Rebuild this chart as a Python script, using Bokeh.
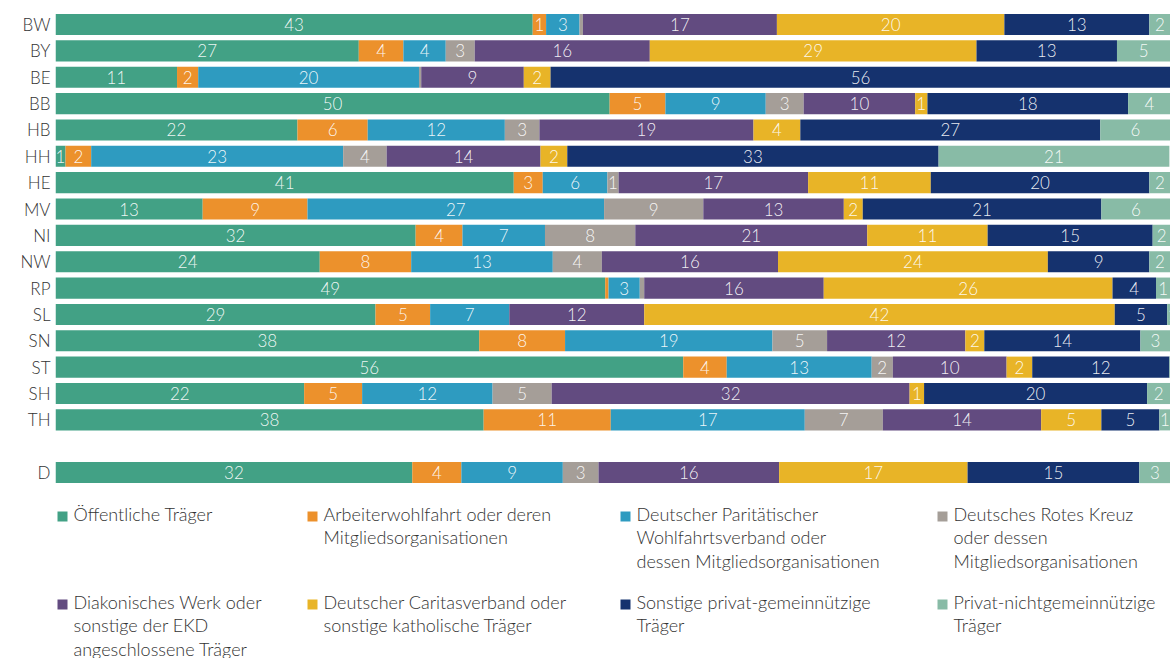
from bokeh.plotting import figure
from bokeh.models import ColumnDataSource, Range1d, FixedTicker
from bokeh.layouts import column
from bokeh.core.properties import value
from bokeh.embed import file_html
from bokeh.resources import INLINE

# ---------------- data (shares in %) ----------------
states = ["BW", "BY", "BE", "BB", "HB", "HH", "HE", "MV", "NI", "NW",
          "RP", "SL", "SN", "ST", "SH", "TH", "D"]

oeffentlich = [42.8, 27.2, 10.9, 49.7, 21.7, 0.9, 41.1, 13.2, 32.3, 23.7, 49.3, 28.7, 38.0, 56.3, 22.3, 38.4, 32.0]
awo         = [1.2, 4.0, 1.9, 5.0, 6.3, 2.3, 2.6, 9.4, 4.2, 8.2, 0.3, 4.9, 7.7, 3.9, 5.2, 11.4, 4.4]
paritaet    = [3.0, 3.8, 19.8, 9.0, 12.3, 22.6, 5.8, 26.6, 7.4, 12.7, 2.8, 7.1, 18.6, 13.0, 11.7, 17.4, 9.1]
drk         = [0.3, 2.6, 0.2, 3.4, 3.1, 3.9, 1.0, 8.9, 8.1, 4.4, 0.4, 0.0, 4.9, 1.9, 5.3, 7.0, 3.2]
diakonie    = [17.4, 15.7, 9.2, 10.0, 19.2, 13.8, 17.0, 12.6, 20.8, 15.8, 16.1, 12.1, 12.4, 10.2, 32.1, 14.2, 16.2]
caritas     = [20.4, 29.3, 2.4, 1.1, 4.2, 2.4, 11.0, 1.7, 10.8, 24.2, 25.9, 42.2, 1.7, 2.3, 1.3, 5.4, 16.9]
sonstige    = [13.0, 12.6, 55.6, 18.0, 26.9, 33.3, 19.6, 21.4, 14.8, 9.1, 3.9, 4.7, 14.0, 12.3, 20.0, 5.2, 15.4]
privat      = [1.9, 4.8, 0.0, 3.8, 6.3, 20.7, 1.9, 6.2, 1.6, 1.9, 1.3, 1.0, 2.7, 0.3, 2.1, 1.0, 2.8]

series_keys = ["oeffentlich", "awo", "paritaet", "drk", "diakonie", "caritas", "sonstige", "privat"]
series_vals = [oeffentlich, awo, paritaet, drk, diakonie, caritas, sonstige, privat]
legend_labels = [
    "Öffentliche Träger",
    "Arbeiterwohlfahrt oder deren\nMitgliedsorganisationen",
    "Deutscher Paritätischer\nWohlfahrtsverband oder\ndessen Mitgliedsorganisationen",
    "Deutsches Rotes Kreuz\n oder dessen\nMitgliedsorganisationen",
    "Diakonisches Werk oder\nsonstige der EKD\nangeschlossene Träger",
    "Deutscher Caritasverband oder\nsonstige katholische Träger",
    "Sonstige privat-gemeinnützige\nTräger",
    "Privat-nichtgemeinnützige\nTräger",
]
colors = ["#42a185", "#ec912c", "#2e9bc0", "#a59e98", "#624b80", "#e8b427", "#15326e", "#88bba6"]

FONT = value("Lato Light")
TEXT_COLOR = "#333333"

# ---------------- layout helpers ----------------
# one empty slot between the Länder and Germany (D)
ypos = [i if s != "D" else i + 1 for i, s in enumerate(states)]

data = {"y": ypos}
for k, v in zip(series_keys, series_vals):
    data[k] = v
src = ColumnDataSource(data)

p = figure(width=1170, height=490,
           x_range=Range1d(0, 100), y_range=Range1d(17.68, -0.608),
           output_backend="svg", toolbar_location=None,
           x_axis_location=None,
           min_border_left=55, min_border_right=0,
           min_border_top=8, min_border_bottom=0)

p.hbar_stack(series_keys, y="y", height=0.8, color=colors, line_color=None, source=src)

# value labels centred in each segment
lx, ly, lt = [], [], []
for r in range(len(states)):
    left = 0.0
    for vals in series_vals:
        w = vals[r]
        if round(w) >= 1:
            lx.append(left + w / 2)
            ly.append(ypos[r])
            lt.append(str(round(w)))
        left += w
p.text(x=lx, y=ly, text=lt, text_align="center", text_baseline="middle",
       text_color="white", text_alpha=0.92, text_font_size="17px", text_font=FONT)

p.yaxis.ticker = FixedTicker(ticks=ypos)
p.yaxis.major_label_overrides = {y: s for y, s in zip(ypos, states)}
p.yaxis.axis_line_color = None
p.yaxis.major_tick_line_color = None
p.yaxis.minor_tick_line_color = None
p.yaxis.major_tick_out = 0
p.yaxis.major_tick_in = 0
p.yaxis.minor_tick_out = 0
p.yaxis.major_label_standoff = 5
p.yaxis.major_label_text_font_size = "17px"
p.yaxis.major_label_text_color = TEXT_COLOR
p.yaxis.major_label_text_font = "Lato Light"
p.xgrid.grid_line_color = None
p.ygrid.grid_line_color = None
p.outline_line_color = None

# ---------------- legend (pixel-like coordinates) ----------------
leg = figure(width=1170, height=168,
             x_range=Range1d(55, 1170), y_range=Range1d(658, 490),
             output_backend="svg", toolbar_location=None,
             x_axis_location=None, y_axis_location=None,
             min_border_left=55, min_border_right=0,
             min_border_top=0, min_border_bottom=0)
leg.xgrid.grid_line_color = None
leg.ygrid.grid_line_color = None
leg.outline_line_color = None

col_left = [57, 307, 620, 937]
row_center = [515, 603]
sq_x, sq_y, tx, ty = [], [], [], []
for i in range(len(legend_labels)):
    c, r = i % 4, i // 4
    sq_x.append(col_left[c] + 5)
    sq_y.append(row_center[r] + 1)
    tx.append(col_left[c] + 16)
    ty.append(row_center[r] - 13)
leg.rect(x=sq_x, y=sq_y, width=10, height=10, color=colors, line_color=None)
leg.text(x=tx, y=ty, text=legend_labels, text_align="left", text_baseline="top",
         text_color=TEXT_COLOR, text_font_size="18px", text_font=FONT,
         text_line_height=1.07)

layout = column(p, leg, spacing=0)
open("out.html", "w").write(file_html(layout, INLINE))
